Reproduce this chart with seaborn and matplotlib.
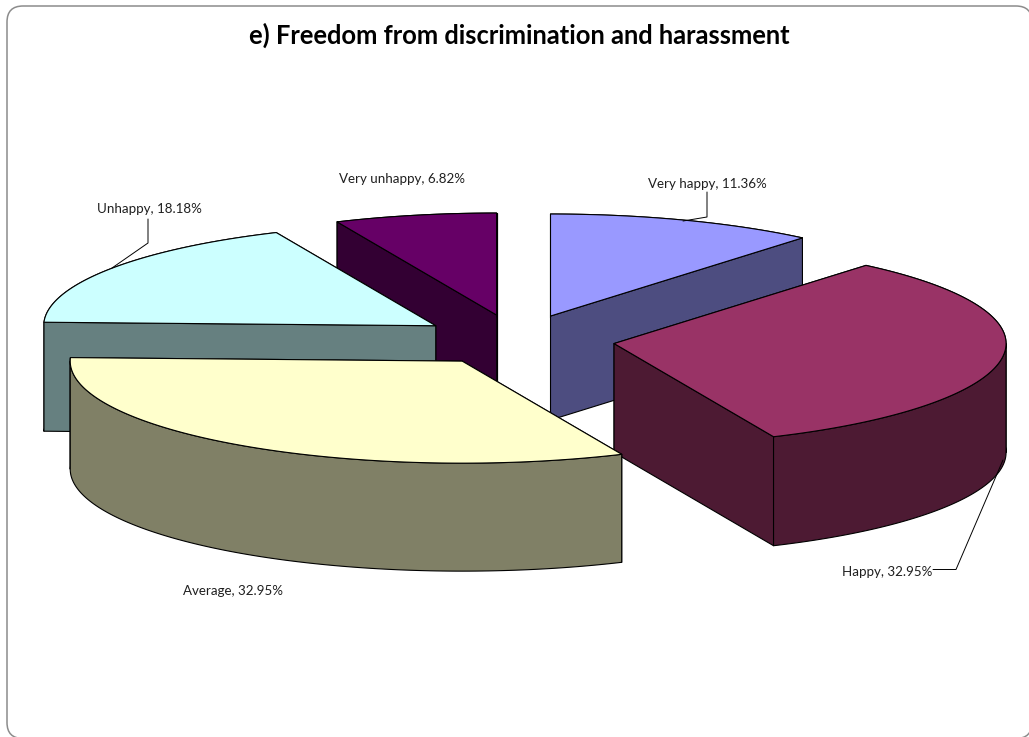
import numpy as np
import matplotlib
matplotlib.use("Agg")
import matplotlib.pyplot as plt
from matplotlib.patches import FancyBboxPatch, Polygon
import seaborn as sns

# Satisfaction shares in percent, drawn clockwise from twelve o'clock
categories = ["Very happy", "Happy", "Average", "Unhappy", "Very unhappy"]
shares = [11.36, 32.95, 32.95, 18.18, 6.82]
top_colors = ["#9999FF", "#993366", "#FFFFCC", "#CCFFFF", "#660066"]
chart_title = "e) Freedom from discrimination and harassment"

# Pie geometry in figure pixels
CX, CY = 517, 340
RX, RY = 392, 102
EXPLODE = 0.25
DEPTHS = [104, 109, 108, 109, 104]
PAINT_ORDER = [4, 0, 3, 1, 2]

# Label anchors and leader lines in figure pixels
LABEL_POS = [(707, 184), (887, 572), (233, 591), (149, 209), (402, 179)]
LEADERS = [
    [(707, 192), (707, 217), (683, 221)],
    [(933, 569.5), (956, 569.5), (1003, 460)],
    None,
    [(148, 219), (148, 243), (112, 268)],
    None,
]

sns.set_theme(style="white")
plt.rcParams["font.family"] = ["Lato", "DejaVu Sans"]
palette = sns.color_palette(top_colors)

fig = plt.figure(figsize=(10.29, 7.37), dpi=100)
ax = fig.add_axes([0, 0, 1, 1])
ax.set_xlim(0, 1029)
ax.set_ylim(737, 0)
ax.axis("off")

ax.add_patch(FancyBboxPatch((7, 6), 1025, 732.5, boxstyle="round,pad=0,rounding_size=16",
                            fc="white", ec="#8C8C8C", lw=1.1, zorder=0))


def rim(apex, a0, a1, n=120):
    """Points on the elliptical rim between two clockwise angles in degrees."""
    t = np.radians(np.linspace(a0, a1, n))
    return np.column_stack([apex[0] + RX * np.sin(t), apex[1] - RY * np.cos(t)])


def wall(points, depth):
    """Vertical face hanging below a run of top-edge points."""
    lower = points[::-1] + np.array([0, depth])
    return np.vstack([points, lower])


total = sum(shares)
edges = np.concatenate([[0], np.cumsum(shares)]) / total * 360
zorder = 1
for i in PAINT_ORDER:
    a0, a1 = edges[i], edges[i + 1]
    mid = np.radians((a0 + a1) / 2)
    apex = np.array([CX + EXPLODE * RX * np.sin(mid), CY - EXPLODE * RY * np.cos(mid)])
    top = palette[i]
    side = tuple(c * 0.5 for c in top)
    depth = DEPTHS[i]

    # Split the outer rim where it turns between facing away and facing the viewer
    cuts = [a0] + [a for a in (90, 270) if a0 < a < a1] + [a1]
    faces = [rim(apex, cuts[k], cuts[k + 1]) for k in range(len(cuts) - 1)]
    faces.append(np.vstack([apex, rim(apex, a0, a0, 1)]))
    faces.append(np.vstack([apex, rim(apex, a1, a1, 1)]))

    # Farther walls first so the nearer ones cover them
    for pts in sorted(faces, key=lambda p: p[:, 1].mean()):
        ax.add_patch(Polygon(wall(pts, depth), closed=True, fc=side, ec="black",
                             lw=0.8, joinstyle="round", zorder=zorder))
        zorder += 1
    ax.add_patch(Polygon(np.vstack([apex, rim(apex, a0, a1)]), closed=True, fc=top,
                         ec="black", lw=0.8, joinstyle="round", zorder=zorder))
    zorder += 1

zorder += 1
for name, share, pos, leader in zip(categories, shares, LABEL_POS, LEADERS):
    ax.text(pos[0], pos[1], f"{name}, {share:.2f}%", ha="center", va="center",
            fontsize=9.6, color="#1F1F1F", zorder=zorder)
    if leader:
        xs, ys = zip(*leader)
        ax.plot(xs, ys, color="black", lw=0.7, zorder=zorder)

ax.text(519, 35, chart_title, ha="center", va="center", fontsize=18.4,
        fontweight="bold", color="black", zorder=zorder)

fig.savefig("out.png", dpi=100)
